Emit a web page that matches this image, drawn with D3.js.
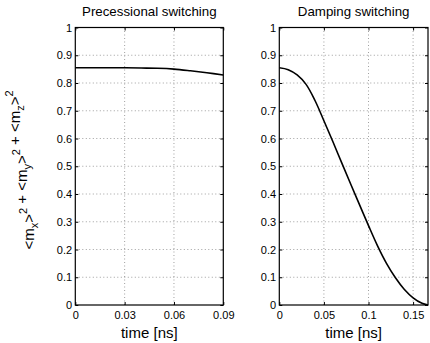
<!DOCTYPE html>
<html>
<head>
<meta charset="utf-8">
<script src="https://cdn.jsdelivr.net/npm/d3@7.9.0/dist/d3.min.js"></script>
<style>
  body { margin: 0; background: #fff; }
  svg { display: block; font-family: "Liberation Sans", Arial, sans-serif; }
</style>
</head>
<body>
<svg id="chart" width="430" height="343"></svg>
<script>
// values
const precTime  = [0, 0.01, 0.02, 0.03, 0.04, 0.05, 0.06, 0.07, 0.08, 0.09];
const precValue = [0.855, 0.855, 0.855, 0.855, 0.854, 0.853, 0.850, 0.844, 0.837, 0.829];

const dampTime  = [0, 0.01, 0.02, 0.03, 0.04, 0.05, 0.06, 0.07, 0.08, 0.09, 0.1, 0.11, 0.12, 0.13, 0.14, 0.15, 0.16, 0.1667];
const dampValue = [0.855, 0.848, 0.829, 0.795, 0.737, 0.664, 0.589, 0.512, 0.436, 0.361, 0.286, 0.214, 0.151, 0.099, 0.057, 0.026, 0.006, 0.0];

const yTicks = [0, 0.1, 0.2, 0.3, 0.4, 0.5, 0.6, 0.7, 0.8, 0.9, 1];
const precXTicks = [0, 0.03, 0.06, 0.09];
const dampXTicks = [0, 0.05, 0.1, 0.15];
const titles = ['Precessional switching', 'Damping switching'];

const svg = d3.select('#chart');
const plotTop = 27.5, plotBottom = 305;

const panels = [
    { left: 75.3, right: 223.3, time: precTime, value: precValue, xTicks: precXTicks, xMax: 0.09, title: titles[0] },
    { left: 279.3, right: 428, time: dampTime, value: dampValue, xTicks: dampXTicks, xMax: 0.1667, title: titles[1] }
];

const y = d3.scaleLinear().domain([0, 1]).range([plotBottom, plotTop]);

panels.forEach((p) => {
    const x = d3.scaleLinear().domain([0, p.xMax]).range([p.left, p.right]);
    const g = svg.append('g');

    // dotted grid
    g.append('g').selectAll('line').data(p.xTicks.filter(d => d > 0 && d < p.xMax)).join('line')
        .attr('x1', d => x(d)).attr('x2', d => x(d))
        .attr('y1', plotTop).attr('y2', plotBottom)
        .attr('stroke', '#888').attr('stroke-width', 0.8).attr('stroke-dasharray', '1,2.5');
    g.append('g').selectAll('line').data(yTicks.filter(d => d > 0 && d < 1)).join('line')
        .attr('x1', p.left).attr('x2', p.right)
        .attr('y1', d => y(d)).attr('y2', d => y(d))
        .attr('stroke', '#888').attr('stroke-width', 0.8).attr('stroke-dasharray', '1,2.5');

    // axes (ticks pointing inward, box on)
    const fmt = d => d3.format('~g')(d);
    const axB = g.append('g').attr('transform', `translate(0,${plotBottom})`)
        .call(d3.axisBottom(x).tickValues(p.xTicks).tickSize(-3).tickPadding(7).tickFormat(fmt));
    const axT = g.append('g').attr('transform', `translate(0,${plotTop})`)
        .call(d3.axisTop(x).tickValues(p.xTicks).tickSize(-3).tickFormat(''));
    const axL = g.append('g').attr('transform', `translate(${p.left},0)`)
        .call(d3.axisLeft(y).tickValues(yTicks).tickSize(-3).tickPadding(3.2).tickFormat(fmt));
    const axR = g.append('g').attr('transform', `translate(${p.right},0)`)
        .call(d3.axisRight(y).tickValues(yTicks).tickSize(-3).tickFormat(''));

    [axB, axT, axL, axR].forEach(a => {
        a.select('.domain').remove();
        a.selectAll('line').attr('stroke', '#000').attr('stroke-width', 1);
        a.selectAll('text').attr('fill', '#000').attr('font-size', 11)
            .attr('font-family', '"Liberation Sans", Arial, sans-serif');
    });
    axB.selectAll('text').attr('dy', null).attr('y', 14);

    g.append('rect')
        .attr('x', p.left).attr('y', plotTop)
        .attr('width', p.right - p.left).attr('height', plotBottom - plotTop)
        .attr('fill', 'none').attr('stroke', '#000').attr('stroke-width', 1.2);

    const line = d3.line()
        .x((d, i) => x(p.time[i]))
        .y(d => y(d))
        .curve(d3.curveCatmullRom.alpha(0.5));

    g.append('path')
        .datum(p.value)
        .attr('d', line)
        .attr('fill', 'none')
        .attr('stroke', '#000')
        .attr('stroke-width', 1.6);

    g.append('text')
        .attr('x', (p.left + p.right) / 2).attr('y', 16)
        .attr('text-anchor', 'middle').attr('font-size', 13.3)
        .text(p.title);

    g.append('text')
        .attr('x', (p.left + p.right) / 2).attr('y', 338)
        .attr('text-anchor', 'middle').attr('font-size', 15)
        .text('time [ns]');
});

// y label with sub and superscripts
const yl = svg.append('text')
    .attr('transform', 'translate(34,170) rotate(-90)')
    .attr('text-anchor', 'middle')
    .attr('font-size', 15);

['x', 'y', 'z'].forEach((c, i) => {
    yl.append('tspan').text((i > 0 ? ' + ' : '') + '<m');
    yl.append('tspan').attr('font-size', 11).attr('dy', 4).text(c);
    yl.append('tspan').attr('dy', -4).text('>');
    yl.append('tspan').attr('font-size', 11).attr('dy', -7).text('2');
    yl.append('tspan').attr('dy', 7).text('');
});
</script>
</body>
</html>
